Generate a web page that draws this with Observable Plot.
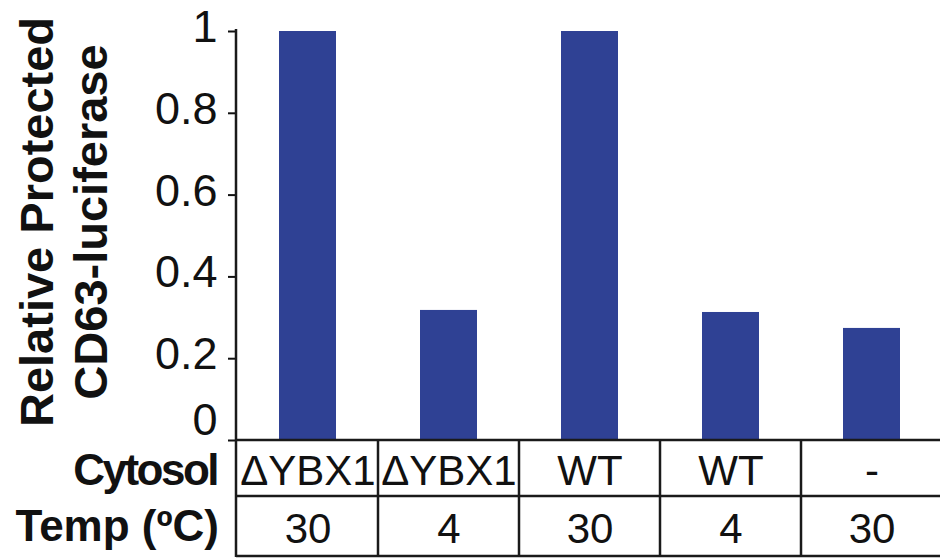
<!DOCTYPE html>
<html><head><meta charset="utf-8">
<script src="https://cdn.jsdelivr.net/npm/d3@7"></script>
<script src="https://cdn.jsdelivr.net/npm/@observablehq/plot@0.6"></script>
<style>body{margin:0;background:#fff} svg{display:block}</style>
</head><body><div id="chart"></div>
<script>
const cytosol = ["ΔYBX1", "ΔYBX1", "WT", "WT", "-"];
const temps = ["30", "4", "30", "4", "30"];
const values = [1.0, 0.318, 1.0, 0.313, 0.274];
const yTicks = [0, 0.2, 0.4, 0.6, 0.8, 1];
const yTickLabels = ["0", "0.2", "0.4", "0.6", "0.8", "1"];
const rowLabels = ["Cytosol", "Temp (ºC)"];
const yTitle = ["Relative Protected", "CD63-luciferase"];

const idx = d3.range(values.length);
const data = idx.map(i => ({i, v: values[i]}));
const font = "'Liberation Sans', Arial, sans-serif";
const fmtY = d => yTickLabels[yTicks.indexOf(d)];

const plot = Plot.plot({
  width: 940, height: 559,
  marginLeft: 235, marginRight: 0, marginTop: 31, marginBottom: 119,
  style: {fontFamily: font, background: "#fff", color: "#111", overflow: "visible"},
  x: {type: "band", domain: idx, range: [235, 943], padding: 0},
  y: {domain: [0, 1], range: [440, 31]},
  marks: [
    Plot.barY(data, {x: "i", y: "v", fill: "#2f4194", insetLeft: 42, insetRight: 42}),
    Plot.axisY({ticks: yTicks, tickFormat: null, text: null, tickSize: 7, strokeWidth: 2, label: null}),
    Plot.axisY({ticks: yTicks.slice(1), tickFormat: fmtY, tickSize: 0, tickPadding: 18, fontSize: 45, dy: -4, label: null}),
    Plot.axisY({ticks: yTicks.slice(0, 1), tickFormat: fmtY, tickSize: 0, tickPadding: 18, fontSize: 45, dy: -20, label: null}),
    Plot.axisX({tickFormat: i => cytosol[i], tickSize: 0, tickPadding: 15, fontSize: 42, label: null}),
    Plot.axisX({tickFormat: i => temps[i], tickSize: 0, tickPadding: 73, fontSize: 42, label: null})
  ]
});

const svg = d3.select(plot);
const xs = plot.scale("x");
const edges = idx.map(i => xs.apply(i));
const left = edges[0];
const g = svg.append("g").attr("stroke", "#1a1a1a").attr("stroke-width", 2.5);
g.append("line").attr("x1", left - 1).attr("x2", left - 1).attr("y1", 29).attr("y2", 557);
[440, 496, 556].forEach(y => g.append("line").attr("x1", left - 1).attr("x2", 940).attr("y1", y).attr("y2", y));
edges.slice(1).forEach(x => g.append("line").attr("x1", x).attr("x2", x).attr("y1", 440).attr("y2", 556));

const tg = svg.append("g").attr("font-family", font).attr("font-weight", "bold").attr("fill", "#111");
tg.append("text").attr("x", 217).attr("y", 485).attr("text-anchor", "end").attr("font-size", 44).attr("letter-spacing", -2.5).text(rowLabels[0]);
tg.append("text").attr("x", 219).attr("y", 541).attr("text-anchor", "end").attr("font-size", 44).text(rowLabels[1]);
tg.append("text").attr("transform", "translate(53,222) rotate(-90)").attr("text-anchor", "middle").attr("font-size", 47).text(yTitle[0]);
tg.append("text").attr("transform", "translate(107,222) rotate(-90)").attr("text-anchor", "middle").attr("font-size", 47).text(yTitle[1]);

document.getElementById("chart").appendChild(plot);
</script>
</body></html>
